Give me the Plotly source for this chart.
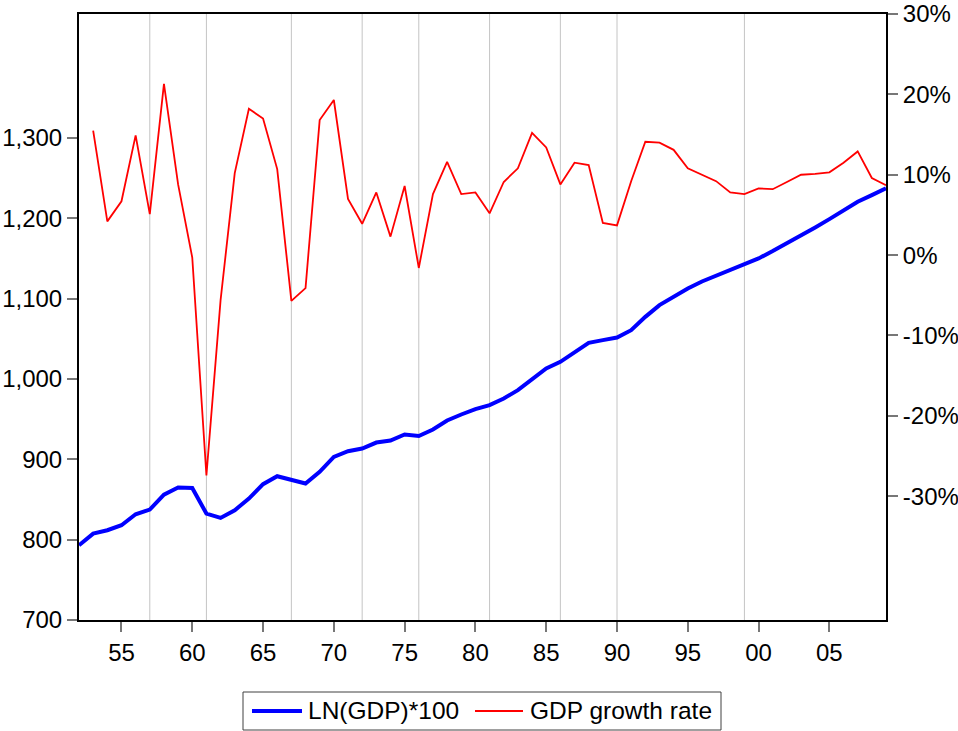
import plotly.graph_objects as go

# Annual series, 1952-2009
years = list(range(1952, 2010))

ln_gdp_x100 = [
    793, 807.5, 811.7, 817.9, 831.6, 837.4, 856.0, 864.8, 864.3, 832.4,
    827.0, 836.6, 851.0, 869.0, 878.9, 873.9, 869.8, 884.3, 903.0, 910.0,
    913.4, 920.8, 923.3, 930.8, 929.0, 937.0, 948.2, 955.7, 962.3, 967.3,
    975.6, 986.0, 999.2, 1013.0, 1021.2, 1032.6, 1044.8, 1048.2, 1051.5, 1060.6,
    1077.2, 1091.8, 1102.0, 1112.5, 1121.2, 1128.7, 1135.3, 1142.4, 1149.9, 1159.0,
    1168.6, 1178.0, 1188.5, 1198.8, 1209.2, 1220.4, 1228.7, 1237.0,
]

growth_years = list(range(1953, 2010))
gdp_growth_pct = [
    15.5, 4.2, 6.7, 14.9, 5.1, 21.3, 8.8, -0.3, -27.4, -5.6,
    10.2, 18.2, 17.0, 10.7, -5.7, -4.1, 16.8, 19.3, 7.0, 3.9,
    7.8, 2.3, 8.6, -1.6, 7.6, 11.6, 7.6, 7.8, 5.2, 9.1,
    10.8, 15.2, 13.4, 8.8, 11.5, 11.2, 4.0, 3.7, 9.2, 14.1,
    14.0, 13.1, 10.8, 10.0, 9.2, 7.8, 7.6, 8.3, 8.2, 9.1,
    10.0, 10.1, 10.3, 11.5, 12.9, 9.6, 8.7,
]

marker_years = [1957, 1961, 1967, 1972, 1976, 1981, 1986, 1990, 1999]

x_tick_years = list(range(1955, 2010, 5))
x_tick_text = [f"{y % 100:02d}" for y in x_tick_years]
left_ticks = list(range(700, 1400, 100))
right_ticks = list(range(-30, 40, 10))
right_tick_text = [f"{v}%" for v in right_ticks]

FONT = "Liberation Sans, Arial, Helvetica, sans-serif"
W, H = 958, 731
ML, MR, MT, MB = 79, 72, 14, 111
PW, PH = W - ML - MR, H - MT - MB


def px(x):
    return (x - ML) / PW


def py(y):
    return (H - MB - y) / PH


fig = go.Figure()
fig.add_trace(go.Scatter(
    x=years, y=ln_gdp_x100, mode="lines", name="LN(GDP)*100",
    line=dict(color="#0000ff", width=4), yaxis="y", showlegend=False,
))
fig.add_trace(go.Scatter(
    x=growth_years, y=gdp_growth_pct, mode="lines", name="GDP growth rate",
    line=dict(color="#ff0000", width=1.8), yaxis="y2", showlegend=False,
))

shapes = []
for yr in marker_years:
    shapes.append(dict(type="line", xref="x", yref="paper", x0=yr, x1=yr, y0=0, y1=1,
                       line=dict(color="#c4c4c4", width=1), layer="below"))

# Legend box below the plot
shapes.append(dict(type="rect", xref="paper", yref="paper",
                   x0=px(243), x1=px(721), y0=py(730), y1=py(692),
                   line=dict(color="#404040", width=1), fillcolor="white"))
shapes.append(dict(type="line", xref="paper", yref="paper",
                   x0=px(252), x1=px(302), y0=py(711), y1=py(711),
                   line=dict(color="#0000ff", width=4)))
shapes.append(dict(type="line", xref="paper", yref="paper",
                   x0=px(475), x1=px(523), y0=py(711), y1=py(711),
                   line=dict(color="#ff0000", width=2)))

annotations = [
    dict(xref="paper", yref="paper", x=px(306), y=py(710), text="LN(GDP)*100",
         showarrow=False, xanchor="left", yanchor="middle",
         font=dict(family=FONT, size=24.5, color="black")),
    dict(xref="paper", yref="paper", x=px(528), y=py(710), text="GDP growth rate",
         showarrow=False, xanchor="left", yanchor="middle",
         font=dict(family=FONT, size=24.5, color="black")),
]

axis_common = dict(
    showgrid=False, zeroline=False, showline=True, linecolor="black", linewidth=2,
    ticks="outside", ticklen=10, tickwidth=2, tickcolor="#777777", automargin=False,
    tickfont=dict(family=FONT, size=24, color="black"),
)

fig.update_layout(
    width=W, height=H,
    margin=dict(l=ML, r=MR, t=MT, b=MB, pad=0),
    paper_bgcolor="white", plot_bgcolor="white",
    showlegend=False,
    xaxis=dict(range=[1952, 2009], tickmode="array", tickvals=x_tick_years,
               ticktext=x_tick_text, mirror=True, **axis_common),
    yaxis=dict(range=[700, 1454], tickmode="array", tickvals=left_ticks,
               tickformat=",", **axis_common),
    yaxis2=dict(range=[-45.4, 30], overlaying="y", side="right", tickmode="array",
                tickvals=right_ticks, ticktext=right_tick_text, **axis_common),
    shapes=shapes,
    annotations=annotations,
)

fig.write_html("out.html")
